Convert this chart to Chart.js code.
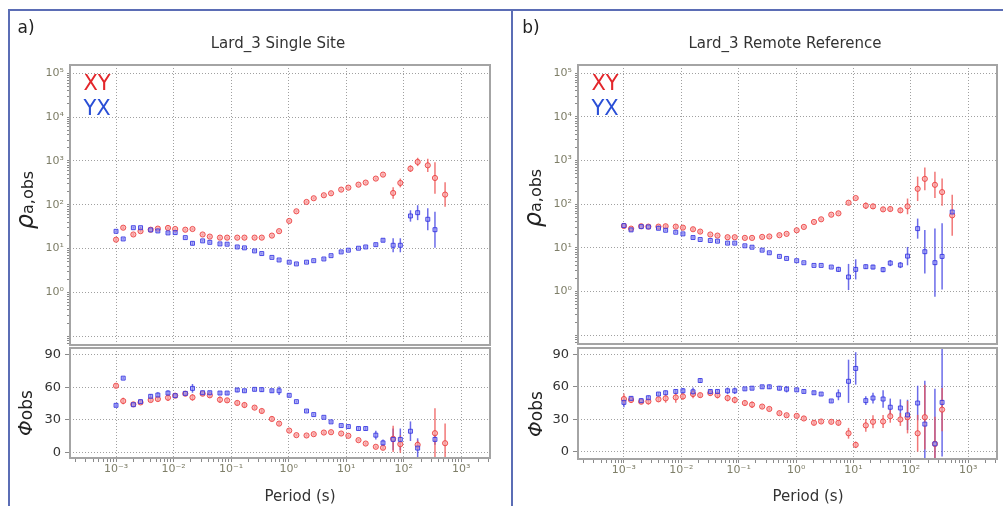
<!DOCTYPE html>
<html>
<head>
<meta charset="utf-8">
<script src="https://cdn.jsdelivr.net/npm/chart.js@4.4.1/dist/chart.umd.min.js"></script>
<style>
  html, body { margin: 0; padding: 0; background: #fff; overflow: hidden; }
  body { width: 1003px; height: 506px; position: relative; font-family: "DejaVu Sans", Verdana, sans-serif; }
  canvas { position: absolute; }
  .txt { position: absolute; transform: translate(-50%, -50%); white-space: nowrap; color: #333; }
  .rot { transform: translate(-50%, -50%) rotate(-90deg); }
  .line { position: absolute; background: #5b6db5; }
</style>
</head>
<body>
<div class="line" style="left:8px; top:9px; width:995px; height:2px;"></div>
<div class="line" style="left:8px; top:9px; width:2px; height:497px;"></div>
<div class="line" style="left:511px; top:9px; width:2px; height:497px;"></div>

<canvas id="rhoA" width="500" height="350" style="left:0; top:0;"></canvas>
<canvas id="phsA" width="500" height="176" style="left:0; top:330px;"></canvas>
<canvas id="rhoB" width="495" height="350" style="left:508px; top:0;"></canvas>
<canvas id="phsB" width="495" height="176" style="left:508px; top:330px;"></canvas>

<div class="txt" style="left:26px; top:27px; font-size:17px; color:#222;">a)</div>
<div class="txt" style="left:531px; top:27px; font-size:17px; color:#222;">b)</div>
<div class="txt" style="left:278px; top:43px; font-size:15px;">Lard_3 Single Site</div>
<div class="txt" style="left:785px; top:43px; font-size:15px;">Lard_3 Remote Reference</div>

<div class="txt" style="left:97px; top:83px; font-size:21px; color:#e3262b;">XY</div>
<div class="txt" style="left:97px; top:108px; font-size:21px; color:#2a4fd6;">YX</div>
<div class="txt" style="left:605px; top:83px; font-size:21px; color:#e3262b;">XY</div>
<div class="txt" style="left:605px; top:108px; font-size:21px; color:#2a4fd6;">YX</div>

<div class="txt rot" style="left:25px; top:200px; color:#222;"><i style="font-size:24px;">ρ</i><span style="font-size:16px;">a,obs</span></div>
<div class="txt rot" style="left:533px; top:198px; color:#222;"><i style="font-size:24px;">ρ</i><span style="font-size:16px;">a,obs</span></div>
<div class="txt rot" style="left:25px; top:413px; color:#222;"><i style="font-size:20px;">Φ</i><span style="font-size:17px;">obs</span></div>
<div class="txt rot" style="left:535px; top:414px; color:#222;"><i style="font-size:20px;">Φ</i><span style="font-size:17px;">obs</span></div>

<div class="txt" style="left:300px; top:496px; font-size:15px;">Period (s)</div>
<div class="txt" style="left:808px; top:496px; font-size:15px;">Period (s)</div>

<script>
// periods (s) shared by both sites
const periods = [0.001, 0.001333, 0.002, 0.002667, 0.004, 0.005333, 0.008, 0.01067, 0.016, 0.02133,
  0.032, 0.04267, 0.064, 0.08533, 0.128, 0.1707, 0.256, 0.3413, 0.512, 0.6827,
  1.024, 1.365, 2.048, 2.731, 4.096, 5.461, 8.192, 10.92, 16.38, 21.85,
  32.77, 43.69, 65.54, 87.38, 131.1, 174.8, 262.1, 349.5, 524.3];

// a) single site - apparent resistivity (ohm m), errors in decades
const rhoXY_a = [16.0, 30, 21, 25, 27, 28.6, 29.6, 28, 27, 28, 21, 18.8, 17.8, 17.8, 17.8, 17.8, 17.8, 17.8, 19.8, 25,
  42.8, 71, 116, 141, 165, 183, 222, 246, 288, 321, 396, 488, 186, 315, 668, 950, 795, 409, 171];
const rhoXY_a_err = [0.03, 0.03, 0.03, 0.03, 0.02, 0.02, 0.03, 0.02, 0.02, 0.02, 0.02, 0.02, 0.02, 0.02, 0.02, 0.02, 0.02, 0.02, 0.02, 0.02,
  0.02, 0.02, 0.02, 0.02, 0.02, 0.02, 0.02, 0.02, 0.02, 0.02, 0.02, 0.02, 0.13, 0.10, 0.076, 0.095, 0.15, 0.36, 0.28];
const rhoYX_a = [24.8, 16.6, 30, 30, 26.7, 25.3, 22.8, 23.2, 17.8, 13.2, 15, 13.9, 12.8, 12.6, 10.9, 10.4, 8.85, 7.7, 6.3, 5.5,
  4.9, 4.47, 4.9, 5.3, 5.8, 6.9, 8.4, 9.2, 10.2, 10.9, 12.3, 15.5, 11.9, 11.9, 55.6, 66, 46.7, 27, null];
const rhoYX_a_err = [0.02, 0.02, 0.02, 0.02, 0.02, 0.02, 0.02, 0.02, 0.02, 0.04, 0.02, 0.02, 0.02, 0.02, 0.02, 0.02, 0.02, 0.02, 0.02, 0.02,
  0.02, 0.02, 0.02, 0.02, 0.02, 0.02, 0.02, 0.02, 0.02, 0.02, 0.03, 0.04, 0.16, 0.16, 0.13, 0.17, 0.25, 0.41, null];

// a) single site - phase (deg)
const phsXY_a = [61.3, 47.3, 44.2, 46, 48.2, 49.1, 50.3, 52.2, 54, 50.6, 54, 52.5, 48.5, 47.9, 45.5, 43.6, 41.2, 38.1, 30.8, 26.5,
  20.1, 15.9, 15.6, 16.8, 18.3, 18.6, 17.4, 15.3, 11.3, 8.2, 5.2, 4.3, 12.5, 7.6, null, 7, null, 17.7, 8.5];
const phsXY_a_err = [1.5, 3, 1.5, 1.5, 2, 2, 3, 1.5, 2, 3, 2, 2, 3, 2, 2, 2.5, 1.5, 2, 2, 1.5,
  1, 1, 1, 1, 1, 1, 1, 1, 1, 1, 1, 1.5, 12, 8, null, 4, null, 23, 18];
const phsYX_a = [43.3, 68.3, 43.9, 46.7, 51.6, 52.8, 54.6, 52.2, 54.3, 58.9, 54.9, 54.9, 54.6, 54.6, 57.4, 56.7, 58, 57.7, 56.7, 56.7,
  52.5, 46.7, 38.1, 34.8, 32.3, 28.1, 24.7, 23.8, 22, 22, 15.9, 8.8, 12, 12, 19.5, 4, null, 12, null];
const phsYX_a_err = [1.5, 1, 1, 1.5, 2, 2.5, 2.5, 1.5, 2, 4, 1.5, 1.5, 1.5, 1.5, 2, 1.5, 1.5, 2, 1.5, 4,
  1, 1, 1, 1, 1, 1, 1, 1, 1.5, 1.5, 4, 3, 10, 10, 9, 9, null, 5, null];

// b) remote reference - apparent resistivity
const rhoXY_b = [31.9, 27.7, 31.4, 30.8, 30.8, 31.4, 30.8, 29.2, 26.8, 23.7, 20.3, 19.2, 17.6, 17.6, 17, 17, 17.9, 18.3, 19.6, 21,
  25.4, 30.3, 39.4, 45.3, 57.8, 62, 108.6, 139, 92.7, 89.5, 76.5, 77.9, 72.6, 89.5, 226, 382, 279, 190, 55.8];
const rhoXY_b_err = [0.04, 0.03, 0.03, 0.03, 0.04, 0.04, 0.04, 0.03, 0.04, 0.03, 0.02, 0.02, 0.02, 0.02, 0.02, 0.02, 0.02, 0.02, 0.02, 0.02,
  0.02, 0.02, 0.02, 0.02, 0.02, 0.02, 0.03, 0.02, 0.075, 0.06, 0.05, 0.05, 0.06, 0.18, 0.28, 0.26, 0.30, 0.31, 0.47];
const rhoYX_b = [32.5, 25.9, 30.8, 30.3, 28.2, 25.4, 22.9, 21, 17.3, 15.6, 14.8, 14.3, 12.9, 12.9, 11.2, 10.4, 8.9, 7.75, 6.4, 5.75,
  5.1, 4.58, 3.98, 3.98, 3.65, 3.23, 2.16, 3.23, 3.72, 3.65, 3.18, 4.5, 4.06, 6.5, 27.7, 8.2, 4.6, 6.4, 66.5];
const rhoYX_b_err = [0.02, 0.02, 0.02, 0.02, 0.02, 0.02, 0.02, 0.02, 0.03, 0.02, 0.02, 0.02, 0.02, 0.02, 0.02, 0.02, 0.02, 0.02, 0.02, 0.02,
  0.02, 0.02, 0.02, 0.02, 0.02, 0.06, 0.30, 0.23, 0.05, 0.05, 0.06, 0.07, 0.07, 0.21, 0.23, 0.5, 0.78, 0.76, 0.03];

// b) remote reference - phase
const phsXY_b = [48.8, 47.9, 46.3, 46.6, 48.5, 49.4, 50.3, 51.2, 53.4, 52.4, 54.3, 52.4, 49.7, 47.9, 45.1, 43.6, 41.8, 39.6, 35.7, 33.8,
  33.2, 30.8, 26.8, 28, 27.7, 26.8, 17.1, 6.4, 24.4, 27.7, 28, 32.9, 29.9, 32, 17.1, 32, 7.3, 39, null];
const phsXY_b_err = [5, 2.5, 2, 3, 2.5, 4, 5, 3, 4, 2, 2.5, 3, 3, 3, 2, 3, 1.5, 1.5, 1.5, 1.5,
  1.5, 1.5, 2, 1.5, 1.5, 2.5, 5, 3, 6, 6, 6, 6, 6, 15, 17, 30, 25, 20, null];
const phsYX_b = [45.7, 49.4, 47.3, 50, 53.4, 54.6, 55.8, 56.4, 55.5, 65.9, 55.8, 55.8, 56.4, 56.4, 58.2, 58.8, 60.1, 60.1, 58.8, 57.9,
  57.3, 55.8, 54.6, 53.4, 47, 52.7, 65.2, 77.1, 47.3, 49.7, 48.8, 41.2, 40.5, 34.1, 45.1, 25.6, 7.3, 45.7, null];
const phsYX_b_err = [4.5, 2, 2, 2, 1.5, 2, 1.5, 2.5, 4, 2, 1.5, 1.5, 3, 3, 1.5, 1.5, 1.5, 2, 2, 3,
  1.5, 1.5, 1.5, 1.5, 1.5, 5, 20, 15, 4, 5, 8, 8, 8, 14, 16, 40, 51, 50, null];

const xDecades = [-3.8, 3.5];
const rhoDecades = [-1.2, 5.19];

Chart.defaults.font.family = "'DejaVu Sans', Verdana, sans-serif";

const gridCol = 'rgba(150,150,150,0.9)';
const labelCol = '#7e7e68';
const sup = { '-': '⁻', '0': '⁰', '1': '¹', '2': '²', '3': '³', '4': '⁴', '5': '⁵', '6': '⁶', '7': '⁷', '8': '⁸', '9': '⁹' };
const pow10Label = e => '10' + String(e).split('').map(c => sup[c]).join('');
const isDecade = v => Math.abs(Math.log10(v) - Math.round(Math.log10(v))) < 1e-9;

const logTicks = (lo, hi) => {
  const out = [];
  for (let e = Math.floor(lo); e <= Math.ceil(hi); e++) {
    for (let m = 1; m < 10; m++) {
      const v = m * Math.pow(10, e);
      const lv = Math.log10(v);
      if (lv >= lo - 1e-9 && lv <= hi + 1e-9) out.push({ value: v, major: m === 1 });
    }
  }
  return out;
};

const toPoints = (vals, errs) => periods
  .map((t, i) => vals[i] == null ? null : { x: t, y: vals[i], e: errs[i] })
  .filter(p => p);

// error bars + grey frame round the plot area
const errFrame = {
  id: 'errFrame',
  beforeDatasetsDraw(chart) {
    const { ctx, chartArea: a, scales: { x, y } } = chart;
    ctx.save();
    ctx.beginPath();
    ctx.rect(a.left, a.top, a.right - a.left, a.bottom - a.top);
    ctx.clip();
    chart.data.datasets.forEach(ds => {
      ctx.strokeStyle = ds.barColor;
      ctx.lineWidth = 1.5;
      ds.data.forEach(p => {
        if (!p.e) return;
        const lo = ds.logErr ? p.y / Math.pow(10, p.e) : p.y - p.e;
        const hi = ds.logErr ? p.y * Math.pow(10, p.e) : p.y + p.e;
        const px = x.getPixelForValue(p.x);
        ctx.beginPath();
        ctx.moveTo(px, y.getPixelForValue(lo));
        ctx.lineTo(px, y.getPixelForValue(hi));
        ctx.stroke();
      });
    });
    ctx.restore();
  },
  afterDraw(chart) {
    const { ctx, chartArea: a } = chart;
    ctx.save();
    ctx.strokeStyle = '#a4a4a4';
    ctx.lineWidth = 2;
    ctx.strokeRect(a.left, a.top, a.right - a.left, a.bottom - a.top);
    ctx.restore();
  }
};

const xyStyle = {
  pointStyle: 'circle', pointRadius: 2.6, borderWidth: 1,
  borderColor: 'rgba(235,60,60,0.85)', backgroundColor: 'rgba(250,165,165,0.7)', barColor: 'rgba(238,85,85,0.8)'
};
const yxStyle = {
  pointStyle: 'rect', pointRadius: 2.8, borderWidth: 1,
  borderColor: 'rgba(50,50,225,0.85)', backgroundColor: 'rgba(150,150,245,0.6)', barColor: 'rgba(70,70,228,0.8)'
};

const makeChart = (id, cfg) => {
  const xAxis = {
    type: 'logarithmic',
    min: Math.pow(10, xDecades[0]), max: Math.pow(10, xDecades[1]),
    afterBuildTicks: s => { s.ticks = logTicks(xDecades[0], xDecades[1]); },
    afterFit: s => { s.height = cfg.phase ? 30 : 0; s.paddingLeft = 0; s.paddingRight = 0; },
    border: { display: false, dash: [1, 2] },
    grid: {
      color: c => c.tick && isDecade(c.tick.value) ? gridCol : 'rgba(0,0,0,0)',
      tickColor: '#8a8a8a', tickLength: 4, drawTicks: !!cfg.phase, lineWidth: 1
    },
    ticks: {
      display: !!cfg.phase, autoSkip: false, maxRotation: 0, padding: 1,
      color: labelCol, font: { size: 11 },
      callback: v => isDecade(v) ? pow10Label(Math.round(Math.log10(v))) : ''
    }
  };
  const yAxis = cfg.phase ? {
    type: 'linear', min: cfg.yMin, max: 96,
    afterBuildTicks: s => { s.ticks = [0, 30, 60, 90].map(v => ({ value: v })); },
    afterFit: s => { s.width = 70; s.paddingTop = 0; s.paddingBottom = 0; },
    border: { display: false, dash: [1, 2] },
    grid: { color: gridCol, tickColor: '#8a8a8a', tickLength: 5 },
    ticks: { color: '#333', font: { size: 13 }, padding: 4 }
  } : {
    type: 'logarithmic',
    min: Math.pow(10, rhoDecades[0]), max: Math.pow(10, rhoDecades[1]),
    afterBuildTicks: s => { s.ticks = logTicks(rhoDecades[0], rhoDecades[1]); },
    afterFit: s => { s.width = 70; s.paddingTop = 0; s.paddingBottom = 0; },
    border: { display: false, dash: [1, 2] },
    grid: {
      color: c => c.tick && isDecade(c.tick.value) ? gridCol : 'rgba(0,0,0,0)',
      tickColor: '#8a8a8a', tickLength: 3
    },
    ticks: {
      autoSkip: false, color: labelCol, font: { size: 11 }, padding: 3,
      callback: v => {
        if (!isDecade(v)) return '';
        const e = Math.round(Math.log10(v));
        return e >= 0 ? pow10Label(e) : '';
      }
    }
  };
  return new Chart(document.getElementById(id), {
    type: 'scatter',
    data: {
      datasets: [
        Object.assign({ label: 'YX', data: toPoints(cfg.yx, cfg.yxErr), logErr: !cfg.phase }, yxStyle),
        Object.assign({ label: 'XY', data: toPoints(cfg.xy, cfg.xyErr), logErr: !cfg.phase }, xyStyle)
      ]
    },
    options: {
      responsive: false,
      animation: false,
      layout: { padding: cfg.pad },
      plugins: { legend: { display: false }, tooltip: { enabled: false } },
      scales: { x: xAxis, y: yAxis }
    },
    plugins: [errFrame]
  });
};

makeChart('rhoA', { xy: rhoXY_a, xyErr: rhoXY_a_err, yx: rhoYX_a, yxErr: rhoYX_a_err,
  pad: { top: 65, bottom: 5, left: 0, right: 10 } });
makeChart('phsA', { phase: true, yMin: -5.1, xy: phsXY_a, xyErr: phsXY_a_err, yx: phsYX_a, yxErr: phsYX_a_err,
  pad: { top: 18, bottom: 18, left: 0, right: 10 } });
makeChart('rhoB', { xy: rhoXY_b, xyErr: rhoXY_b_err, yx: rhoYX_b, yxErr: rhoYX_b_err,
  pad: { top: 65, bottom: 6, left: 0, right: 6 } });
makeChart('phsB', { phase: true, yMin: -6.7, xy: phsXY_b, xyErr: phsXY_b_err, yx: phsYX_b, yxErr: phsYX_b_err,
  pad: { top: 18, bottom: 17, left: 0, right: 6 } });
</script>
</body>
</html>
